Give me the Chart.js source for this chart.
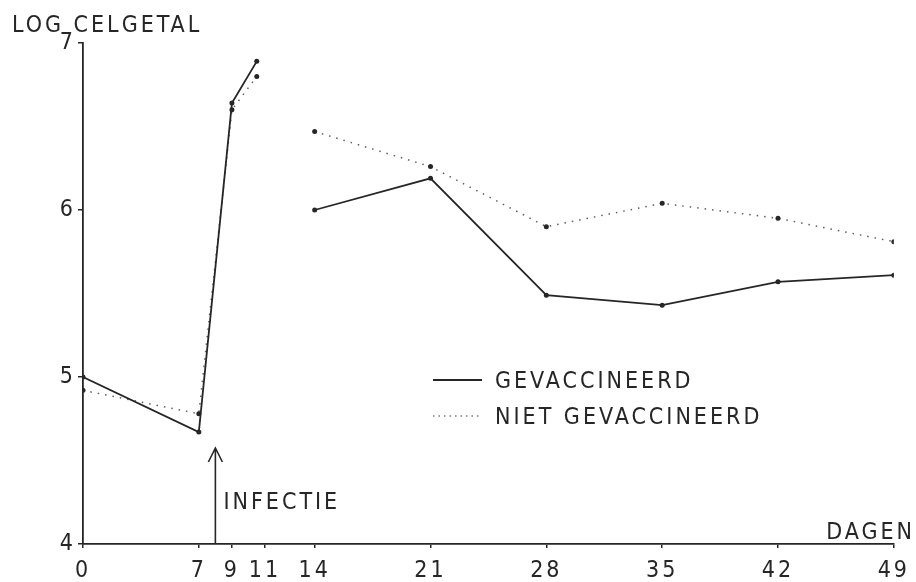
<!DOCTYPE html>
<html>
<head>
<meta charset="utf-8">
<script src="https://cdn.jsdelivr.net/npm/chart.js@4.4.0/dist/chart.umd.min.js"></script>
<style>
  html, body { margin: 0; padding: 0; background: #fff; }
  #wrap { width: 916px; height: 582px; }
</style>
</head>
<body>
<div id="wrap"><canvas id="chartCelgetal" width="916" height="582"></canvas></div>
<script>
const days = [0, 7, 9, 10.5, 12, 14, 21, 28, 35, 42, 49];
const gevaccineerd = [5.0, 4.67, 6.64, 6.89, null, 6.0, 6.19, 5.49, 5.43, 5.57, 5.61];
const nietGevaccineerd = [4.92, 4.78, 6.6, 6.8, null, 6.47, 6.26, 5.9, 6.04, 5.95, 5.81];
const tickDays = [0, 7, 9, 11, 14, 21, 28, 35, 42, 49];
const tickLog = [4, 5, 6, 7];
const infectieDag = 8;

const ink = '#262626';
const fontFamily = '"Liberation Sans Narrow", "DejaVu Sans Condensed", "Liberation Sans", sans-serif';

const toPoints = (vals) => days.map((d, i) => ({ x: d, y: vals[i] }));

// titles, legend and the infection arrow
const annotations = {
  id: 'annotations',
  beforeDraw(chart) {
    chart.ctx.letterSpacing = '3px';
  },
  afterDraw(chart) {
    const ctx = chart.ctx;
    const x = chart.scales.x;
    const y = chart.scales.y;
    ctx.save();
    ctx.letterSpacing = '3px';
    ctx.fillStyle = ink;
    ctx.strokeStyle = ink;
    ctx.font = '23px ' + fontFamily;
    ctx.textBaseline = 'middle';

    ctx.textAlign = 'left';
    ctx.fillText('LOG CELGETAL', 12, 26);
    ctx.textAlign = 'right';
    ctx.fillText('DAGEN', 915, 533);

    // arrow
    const ax = x.getPixelForValue(infectieDag);
    const base = y.getPixelForValue(4);
    const tip = base - 96;
    ctx.lineWidth = 1.6;
    ctx.beginPath();
    ctx.moveTo(ax, base);
    ctx.lineTo(ax, tip);
    ctx.moveTo(ax - 7, tip + 14);
    ctx.lineTo(ax, tip);
    ctx.lineTo(ax + 7, tip + 14);
    ctx.stroke();
    ctx.textAlign = 'left';
    ctx.fillText('INFECTIE', ax + 8, 503);

    // legend
    ctx.lineWidth = 1.8;
    ctx.beginPath();
    ctx.moveTo(433, 380);
    ctx.lineTo(482, 380);
    ctx.stroke();
    ctx.fillText('GEVACCINEERD', 495, 382);

    ctx.strokeStyle = '#7a7a7a';
    ctx.lineWidth = 1.4;
    ctx.setLineDash([1.5, 4]);
    ctx.beginPath();
    ctx.moveTo(433, 416);
    ctx.lineTo(482, 416);
    ctx.stroke();
    ctx.setLineDash([]);
    ctx.fillText('NIET GEVACCINEERD', 495, 418);
    ctx.restore();
  }
};

const ctx = document.getElementById('chartCelgetal');
const chart = new Chart(ctx, {
  type: 'line',
  data: {
    datasets: [
      {
        label: 'GEVACCINEERD',
        data: toPoints(gevaccineerd),
        borderColor: ink,
        backgroundColor: ink,
        borderWidth: 1.8,
        pointRadius: 2.5,
        pointBorderWidth: 0,
        spanGaps: false,
        tension: 0,
      },
      {
        label: 'NIET GEVACCINEERD',
        data: toPoints(nietGevaccineerd),
        borderColor: '#5f5f5f',
        backgroundColor: ink,
        borderWidth: 1.5,
        borderDash: [1.5, 6],
        pointRadius: 2.5,
        pointBorderWidth: 0,
        spanGaps: false,
        tension: 0,
      },
    ],
  },
  options: {
    responsive: false,
    animation: false,
    layout: { padding: { top: 43, right: 21, left: 0, bottom: 0 } },
    plugins: {
      legend: { display: false },
      tooltip: { enabled: false },
    },
    scales: {
      x: {
        type: 'linear',
        min: 0,
        max: 49,
        afterBuildTicks: (axis) => {
          axis.ticks = tickDays.map((v) => ({ value: v }));
        },
        afterFit: (axis) => { axis.height = 38; },
        grid: { drawOnChartArea: false, drawTicks: true, tickLength: 4, color: ink, lineWidth: 1.5 },
        border: { color: ink, width: 1.8 },
        ticks: {
          color: ink,
          font: { family: fontFamily, size: 23 },
          padding: 9,
          maxRotation: 0,
          autoSkip: false,
        },
      },
      y: {
        type: 'linear',
        min: 4,
        max: 7,
        afterBuildTicks: (axis) => {
          axis.ticks = tickLog.map((v) => ({ value: v }));
        },
        afterFit: (axis) => { axis.width = 83; },
        grid: { drawOnChartArea: false, drawTicks: true, tickLength: 5, color: ink, lineWidth: 1.5 },
        border: { color: ink, width: 1.8 },
        ticks: {
          color: ink,
          font: { family: fontFamily, size: 23 },
          padding: 2,
          autoSkip: false,
        },
      },
    },
  },
  plugins: [annotations],
});
</script>
</body>
</html>
